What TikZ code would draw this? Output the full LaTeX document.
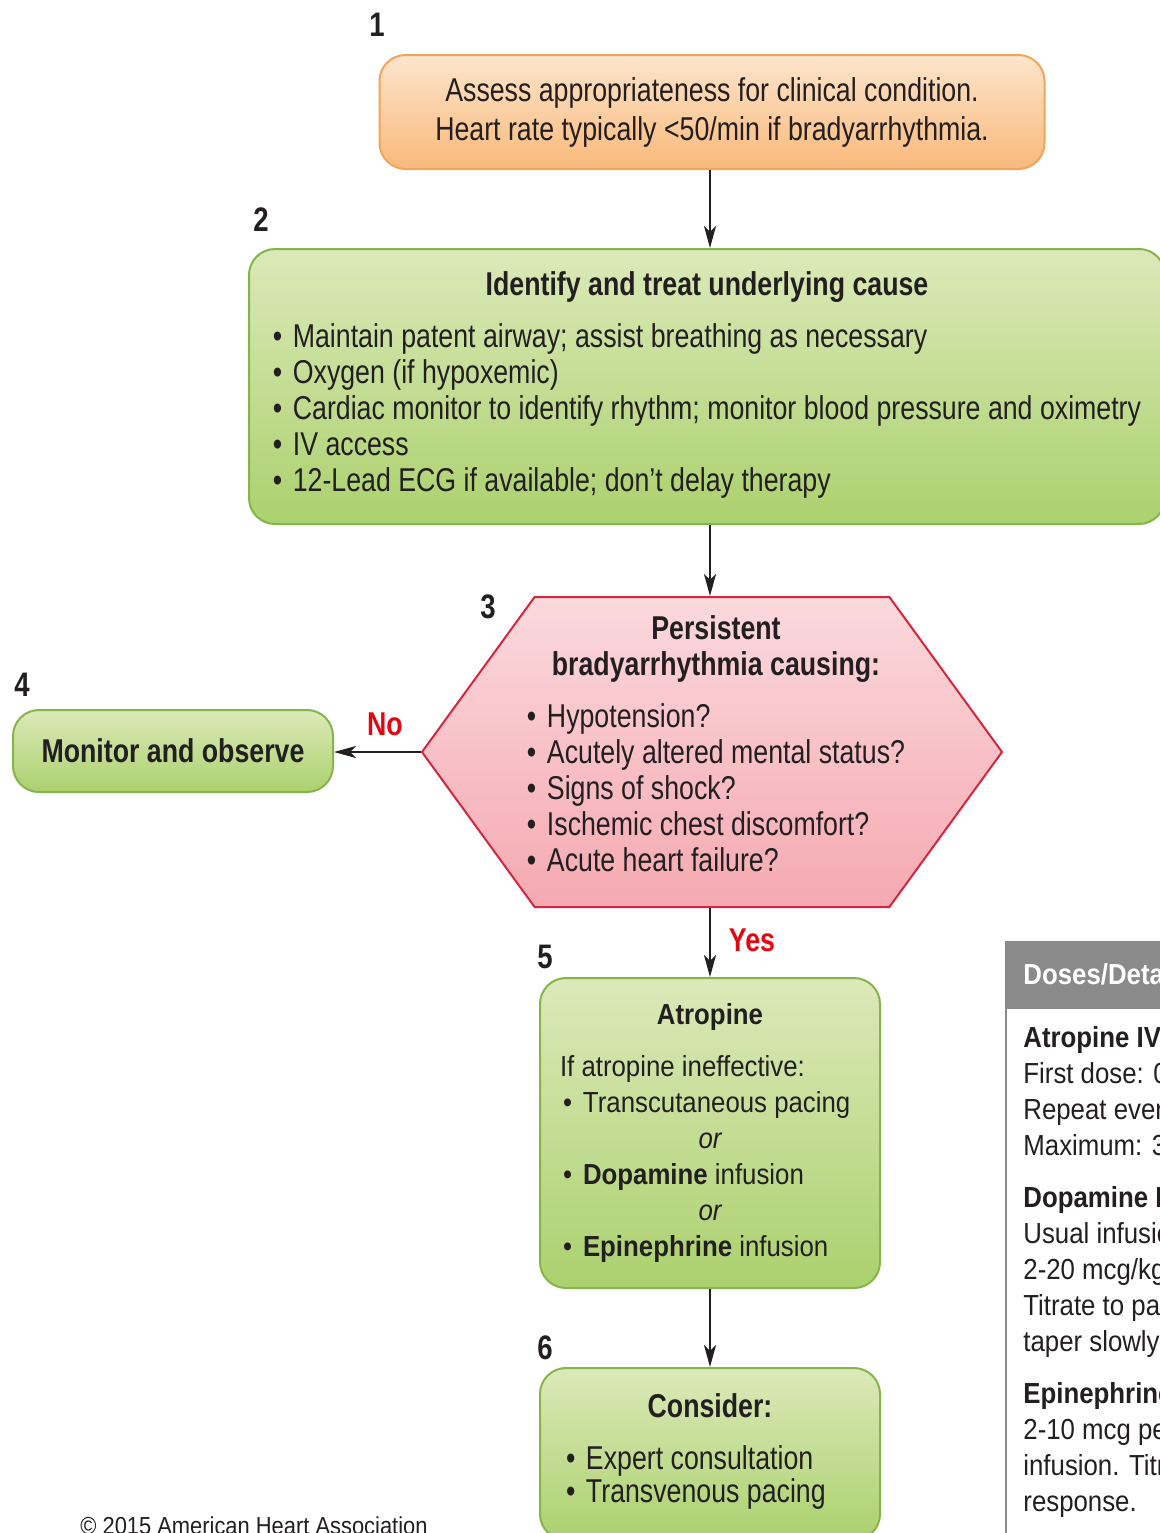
\documentclass[tikz,border=0pt]{standalone}
\usepackage{fontspec}
\setmainfont{Liberation Sans}
\newfontfamily\condfont{Liberation Sans}[FakeStretch=0.81]
\newfontfamily\bodyfont{Liberation Sans}[FakeStretch=0.89]
\usetikzlibrary{arrows.meta,shapes.symbols}

\definecolor{orgTop}{HTML}{FDE5CC}
\definecolor{orgBot}{HTML}{F9B97A}
\definecolor{orgLine}{HTML}{F0A55C}
\definecolor{grnTop}{HTML}{DCE9B9}
\definecolor{grnBot}{HTML}{ABD16E}
\definecolor{grnLine}{HTML}{84B548}
\definecolor{pnkTop}{HTML}{FBD9DD}
\definecolor{pnkBot}{HTML}{F5A9B1}
\definecolor{pnkLine}{HTML}{D8253E}
\definecolor{ahaRed}{HTML}{E30613}
\definecolor{panelGray}{HTML}{8A8A8A}
\definecolor{txt}{HTML}{231F20}

\newcommand{\blt}{\makebox[10pt][l]{\textbullet}}

\begin{document}
\begin{tikzpicture}[
  x=0.5pt, y=-0.5pt,
  arr/.style={-{Stealth[length=11pt,width=6pt,inset=3pt]}, line width=1.2pt, txt},
  stepno/.style={font=\condfont\bfseries\fontsize{17}{17}\selectfont, txt, inner sep=0pt},
  card/.style={draw, line width=1pt, rounded corners=13pt, inner sep=0pt, text=txt,
               font=\condfont\fontsize{16.5}{18}\selectfont},
  grncard/.style={card, draw=grnLine, top color=grnTop, bottom color=grnBot},
  ans/.style={font=\condfont\bfseries\fontsize{16.5}{18}\selectfont, ahaRed, inner sep=0pt},
]
\useasboundingbox (0,0) rectangle (1160,1533);
\clip (0,0) rectangle (1160,1533);

%% --- step 1 ---
\node[stepno] (n1) at (377,25) {1};
\node[card, draw=orgLine, top color=orgTop, bottom color=orgBot,
      minimum width=332.5pt, minimum height=57pt, align=center,
      font=\condfont\fontsize{16.5}{19.5}\selectfont] (assess) at (712,112)
  {Assess appropriateness for clinical condition.\\
   Heart rate typically <50/min if bradyarrhythmia.};

%% --- step 2 ---
\node[stepno] (n2) at (261,220) {2};
\node[grncard, minimum width=458pt, minimum height=137.5pt] (cause) at (707,386.5)
  {\begin{tabular}{@{}l@{}}
     \multicolumn{1}{@{}c@{}}{\bfseries Identify and treat underlying cause}\\[8pt]
     \blt Maintain patent airway; assist breathing as necessary\\
     \blt Oxygen (if hypoxemic)\\
     \blt Cardiac monitor to identify rhythm; monitor blood pressure and oximetry\\
     \blt IV access\\
     \blt 12-Lead ECG if available; don’t delay therapy
   \end{tabular}};
\draw[arr] (assess.south -| 710,0) -- (cause.north -| 710,0);

%% --- step 3: decision ---
\node[stepno] (n3) at (488,607) {3};
\node[signal, signal to=west and east, signal pointer angle=108,
      draw=pnkLine, line width=1pt, top color=pnkTop, bottom color=pnkBot,
      minimum width=290pt, minimum height=155pt, inner sep=0pt] (brady) at (712,752) {};
\node[text=txt, inner sep=0pt, font=\condfont\fontsize{16.5}{18}\selectfont] (bradytxt) at (716,748)
  {\begin{tabular}{@{}l@{}}
     \multicolumn{1}{@{}c@{}}{\bfseries Persistent}\\
     \multicolumn{1}{@{}c@{}}{\bfseries bradyarrhythmia causing:}\\[8pt]
     \blt Hypotension?\\
     \blt Acutely altered mental status?\\
     \blt Signs of shock?\\
     \blt Ischemic chest discomfort?\\
     \blt Acute heart failure?
   \end{tabular}};
\draw[arr] (cause.south -| 710,0) -- (brady.north -| 710,0);

%% --- step 4 ---
\node[stepno] (n4) at (22,685) {4};
\node[grncard, minimum width=160pt, minimum height=41pt,
      font=\condfont\bfseries\fontsize{16.5}{18}\selectfont] (monitor) at (173,751)
  {Monitor and observe};
\draw[arr] (brady.west) -- (brady.west -| monitor.east);
\node[ans] (no) at (385,724) {No};

%% --- step 5 ---
\node[stepno] (n5) at (545,957) {5};
\node[grncard, minimum width=170pt, minimum height=155pt,
      font=\bodyfont\fontsize{14.5}{18}\selectfont] (atropine) at (710,1133)
  {\begin{tabular}{@{}p{150pt}@{}}
     \multicolumn{1}{@{}c@{}}{\bfseries Atropine}\\[8pt]
     If atropine ineffective:\\
     \hspace{1.5pt}\blt Transcutaneous pacing\\
     \multicolumn{1}{@{}c@{}}{\itshape or}\\
     \hspace{1.5pt}\blt \textbf{Dopamine} infusion\\
     \multicolumn{1}{@{}c@{}}{\itshape or}\\
     \hspace{1.5pt}\blt \textbf{Epinephrine} infusion
   \end{tabular}};
\draw[arr] (brady.south -| 710,0) -- (atropine.north -| 710,0);
\node[ans] (yes) at (752,940) {Yes};

%% --- step 6 ---
\node[stepno] (n6) at (545,1348) {6};
\node[grncard, minimum width=170pt, minimum height=86pt] (consider) at (710,1454)
  {\begin{tabular}{@{}p{144pt}@{}}
     \multicolumn{1}{@{}c@{}}{\bfseries Consider:}\\[8pt]
     \blt Expert consultation\\[-1.5pt]
     \blt Transvenous pacing\\[1pt]
   \end{tabular}};
\draw[arr] (atropine.south -| 710,0) -- (consider.north -| 710,0);

%% --- doses panel ---
\node[draw=panelGray, fill=white, line width=1.2pt, anchor=north west,
      minimum width=120pt, minimum height=300pt, inner sep=0pt] (dosebox) at (1005,1007) {};
\node[draw=panelGray, fill=panelGray, anchor=north west,
      minimum width=120pt, minimum height=33pt, inner sep=0pt] (dosehead) at (1005,941) {};
\node[anchor=west, inner sep=0pt, text=white,
      font=\bodyfont\bfseries\fontsize{14.5}{18}\selectfont] (dosetitle) at (1023,974) {Doses/Details};
\node[anchor=north west, inner sep=0pt, text=txt,
      font=\bodyfont\fontsize{14.5}{18}\selectfont] (dosetxt) at (1023,1022)
  {\begin{tabular}{@{}l@{}}
     \textbf{Atropine IV dose:}\\
     First dose: 0.5 mg bolus\\
     Repeat every 3-5 minutes\\
     Maximum: 3 mg\\[8pt]
     \textbf{Dopamine IV infusion:}\\
     Usual infusion rate is\\
     2-20 mcg/kg per minute\\
     Titrate to patient response;\\
     taper slowly\\[8pt]
     \textbf{Epinephrine IV infusion:}\\
     2-10 mcg per minute\\
     infusion. Titrate to patient\\
     response.
   \end{tabular}};

%% --- footer ---
\node[anchor=base west, inner sep=0pt, text=txt,
      font=\bodyfont\fontsize{12.3}{14}\selectfont] (copy) at (80,1534)
  {© 2015 American Heart Association};
\end{tikzpicture}
\end{document}
